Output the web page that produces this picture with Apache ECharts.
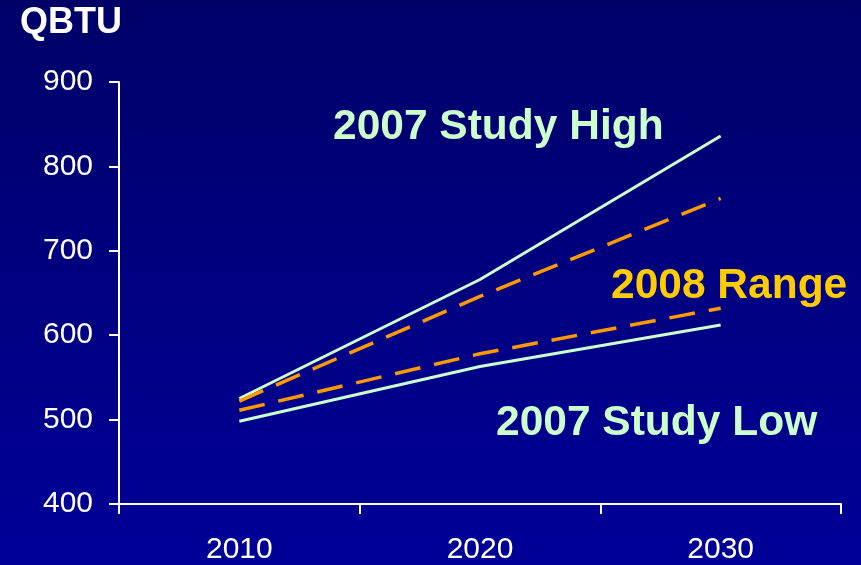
<!DOCTYPE html>
<html>
<head>
<meta charset="utf-8">
<script src="https://cdn.jsdelivr.net/npm/echarts@6/dist/echarts.min.js"></script>
<style>
  html, body { margin: 0; padding: 0; background: #000080; }
  #chart { width: 861px; height: 565px; }
</style>
</head>
<body>
<div id="chart"></div>
<script>
// Energy demand outlook, QBTU
const years = ['2010', '2020', '2030'];
const study2007High = [525, 666, 836];
const study2007Low = [498, 563, 612];
const range2008High = [522, 646, 762];
const range2008Low = [511, 578, 632];
const yTicks = { min: 400, max: 900, interval: 100 };

const MINT = '#CCFFCC';
const ORANGE = '#FF9900';
const GOLD = '#FFCC00';
const FONT = '"Liberation Sans", Arial, sans-serif';

const chart = echarts.init(document.getElementById('chart'));

function solid(name, data) {
  return {
    name, type: 'line', data, symbol: 'none', silent: true,
    lineStyle: { color: MINT, width: 3 }
  };
}
function dashed(name, data) {
  return {
    name, type: 'line', data, symbol: 'none', silent: true,
    lineStyle: { color: ORANGE, width: 3.5, type: [26, 14] }
  };
}

chart.setOption({
  animation: false,
  backgroundColor: {
    type: 'linear', x: 0, y: 0, x2: 0, y2: 1,
    colorStops: [
      { offset: 0, color: '#000068' },
      { offset: 1, color: '#000098' }
    ]
  },
  grid: { left: 119, right: 20, top: 82, bottom: 60 },
  xAxis: {
    type: 'category',
    data: years,
    boundaryGap: true,
    axisLine: { lineStyle: { color: '#FFFFFF', width: 2 } },
    axisTick: { show: true, length: 10, lineStyle: { color: '#FFFFFF', width: 2 } },
    axisLabel: { color: '#FFFFFF', fontSize: 30, fontFamily: FONT, margin: 31 },
    splitLine: { show: false }
  },
  yAxis: {
    type: 'value',
    min: yTicks.min, max: yTicks.max, interval: yTicks.interval,
    axisLine: { show: true, lineStyle: { color: '#FFFFFF', width: 2 } },
    axisTick: { show: true, length: 10, lineStyle: { color: '#FFFFFF', width: 2 } },
    axisLabel: { color: '#FFFFFF', fontSize: 30, fontFamily: FONT, margin: 26 },
    splitLine: { show: false }
  },
  series: [
    solid('2007 Study High', study2007High),
    solid('2007 Study Low', study2007Low),
    dashed('2008 Range High', range2008High),
    dashed('2008 Range Low', range2008Low)
  ],
  graphic: [
    { type: 'text', left: 20, top: 5,
      style: { text: 'QBTU', fill: '#FFFFFF', font: 'bold 36px ' + FONT } },
    { type: 'text', left: 333, top: 106,
      style: { text: '2007 Study High', fill: MINT, font: 'bold 42.5px ' + FONT } },
    { type: 'text', left: 611, top: 265,
      style: { text: '2008 Range', fill: GOLD, font: 'bold 42.5px ' + FONT } },
    { type: 'text', left: 496, top: 402,
      style: { text: '2007 Study Low', fill: MINT, font: 'bold 42.5px ' + FONT } }
  ]
});
</script>
</body>
</html>
